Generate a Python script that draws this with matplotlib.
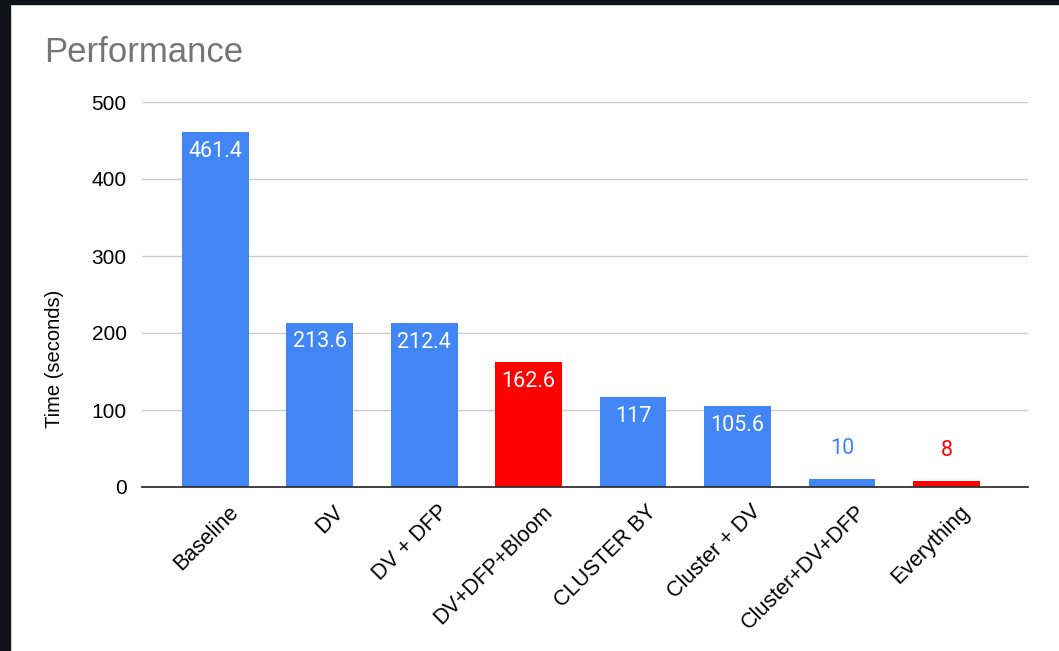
import matplotlib
matplotlib.use("Agg")
import matplotlib.pyplot as plt
import matplotlib.transforms as mtransforms
from matplotlib.patches import Rectangle

# ===================== DATA =====================
categories = ["Baseline", "DV", "DV + DFP", "DV+DFP+Bloom", "CLUSTER BY",
              "Cluster + DV", "Cluster+DV+DFP", "Everything"]
times = [461.4, 213.6, 212.4, 162.6, 117, 105.6, 10, 8]
labels = ["461.4", "213.6", "212.4", "162.6", "117", "105.6", "10", "8"]
highlight = [False, False, False, True, False, False, False, True]
yticks = [0, 100, 200, 300, 400, 500]

BLUE = "#4285F4"
RED = "#FF0000"
FRAME = "#11131b"

plt.rcParams["font.family"] = ["Liberation Sans", "DejaVu Sans"]

fig = plt.figure(figsize=(10.59, 6.51), dpi=100)
fig.patch.set_facecolor("white")

# dark screenshot frame on the left and top
fig.patches.append(Rectangle((0, 0), 10 / 1059, 1, transform=fig.transFigure,
                             color=FRAME, zorder=0))
fig.patches.append(Rectangle((0, 1 - 4 / 651), 1, 4 / 651, transform=fig.transFigure,
                             color=FRAME, zorder=0))

ax = fig.add_axes([142 / 1059, 1 - 487 / 651, 886 / 1059, 385 / 651])

colors = [RED if h else BLUE for h in highlight]
x = list(range(len(categories)))
bars = ax.bar(x, times, width=0.64, color=colors, zorder=3)

ax.set_xlim(-0.7, 7.78)
ax.set_ylim(0, 500)
ax.set_yticks(yticks)
ax.set_yticklabels([str(t) for t in yticks], fontsize=15, color="#000000")
ax.yaxis.grid(True, color="#cccccc", linewidth=1, zorder=0)
ax.tick_params(axis="y", length=0, pad=11)
ax.tick_params(axis="x", length=0, pad=6)

ax.set_xticks(x)
ax.set_xticklabels(categories, rotation=45, ha="right", va="top",
                   rotation_mode="anchor", fontsize=15.5, color="#000000")
shift = mtransforms.ScaledTranslation(13 / 100, -6 / 100, fig.dpi_scale_trans)
for lab in ax.get_xticklabels():
    lab.set_transform(lab.get_transform() + shift)

for s in ["top", "right", "left"]:
    ax.spines[s].set_visible(False)
ax.spines["bottom"].set_color("#333333")
ax.spines["bottom"].set_linewidth(1.3)
ax.spines["bottom"].set_zorder(4)

# axis title sits centred on the whole plot block, not on the axes
fig.text(55 / 1059, 1 - 359 / 651, "Time (seconds)", fontsize=14.5,
         rotation=90, ha="center", va="center")

# value labels: inside big bars, above tiny ones
for xi, v, lab, c in zip(x, times, labels, colors):
    if v > 50:
        ax.annotate(lab, (xi, v), xytext=(0, -14), textcoords="offset points",
                    ha="center", va="center", color="white", fontsize=15.5,
                    family=["Roboto", "DejaVu Sans"], zorder=5)
    else:
        ax.annotate(lab, (xi, v), xytext=(0, 22), textcoords="offset points",
                    ha="center", va="center", color=c, fontsize=15.5,
                    family=["Roboto", "DejaVu Sans"], zorder=5)

fig.text(44 / 1059, 1 - 53 / 651, "Performance", fontsize=25, color="#757575",
         ha="left", va="center")

fig.savefig("out.png", dpi=100)
